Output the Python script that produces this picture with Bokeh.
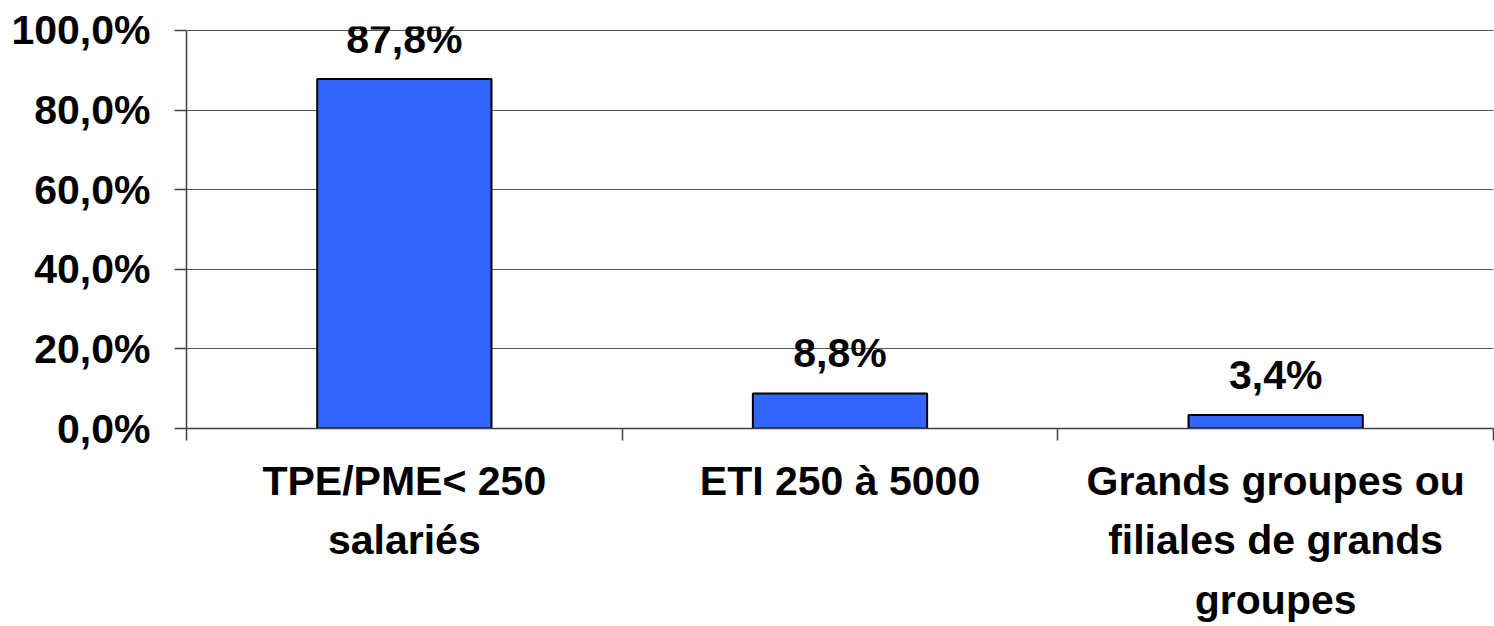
import numpy as np
from bokeh.plotting import figure
from bokeh.models import Range1d, FixedTicker, ColumnDataSource
from bokeh.core.properties import value
from bokeh.embed import file_html
from bokeh.resources import INLINE

categories = ["TPE/PME< 250\nsalariés", "ETI 250 à 5000", "Grands groupes ou\nfiliales de grands\ngroupes"]
shares = [87.8, 8.8, 3.4]
share_labels = ["87,8%", "8,8%", "3,4%"]
y_ticks = [0, 20, 40, 60, 80, 100]
y_tick_labels = ["0,0%", "20,0%", "40,0%", "60,0%", "80,0%", "100,0%"]

FONT = "Liberation Sans"
FS = "41px"
positions = list(np.arange(len(categories)) + 0.5)
bounds = list(np.arange(len(categories) + 1).astype(float))

src = ColumnDataSource(dict(x=positions, top=shares, lab=share_labels))

p = figure(width=1494, height=626, output_backend="svg", toolbar_location=None,
           x_range=Range1d(0, len(categories)), y_range=Range1d(0, 101),
           min_border_left=186, min_border_right=1, min_border_top=26, min_border_bottom=198)
p.outline_line_color = None
p.background_fill_color = "white"
p.border_fill_color = "white"

p.vbar(x="x", top="top", width=0.4, bottom=0, source=src,
       fill_color="#3366FF", line_color="black", line_width=2)

p.text(x="x", y="top", text="lab", source=src, text_align="center",
       text_baseline="alphabetic", y_offset=-40,
       text_font=value(FONT), text_font_style="bold", text_font_size=FS,
       text_color="black")

# y axis
p.yaxis.ticker = FixedTicker(ticks=y_ticks)
p.yaxis.major_label_overrides = {t: l for t, l in zip(y_ticks, y_tick_labels)}
p.yaxis.bounds = (0, 100)
p.yaxis.major_tick_out = 12
p.yaxis.major_tick_in = 0
p.yaxis.minor_tick_line_color = None
p.yaxis.major_label_standoff = 24
p.yaxis.major_label_text_font = FONT
p.yaxis.major_label_text_font_style = "bold"
p.yaxis.major_label_text_font_size = FS
p.yaxis.major_label_text_color = "black"
p.yaxis.axis_line_color = "#404040"
p.yaxis.axis_line_width = 1.5
p.yaxis.major_tick_line_color = "#404040"
p.yaxis.major_tick_line_width = 1.5

# x axis: labels at category centres, ticks at category boundaries
p.xaxis.ticker = FixedTicker(ticks=positions, minor_ticks=bounds)
p.xaxis.major_label_overrides = {float(x): c for x, c in zip(positions, categories)}
p.xaxis.major_tick_out = 0
p.xaxis.major_tick_in = 0
p.xaxis.minor_tick_out = 12
p.xaxis.minor_tick_in = 0
p.xaxis.minor_tick_line_color = "#404040"
p.xaxis.minor_tick_line_width = 1.5
p.xaxis.major_label_standoff = 17
p.xaxis.major_label_text_font = FONT
p.xaxis.major_label_text_font_style = "bold"
p.xaxis.major_label_text_font_size = FS
p.xaxis.major_label_text_color = "black"
p.xaxis.major_label_text_line_height = 1.3
p.xaxis.axis_line_color = "#404040"
p.xaxis.axis_line_width = 1.5

p.xgrid.grid_line_color = None
p.ygrid.ticker = FixedTicker(ticks=y_ticks)
p.ygrid.grid_line_color = "#555555"
p.ygrid.grid_line_width = 1

open("out.html", "w").write(file_html(p, INLINE))
